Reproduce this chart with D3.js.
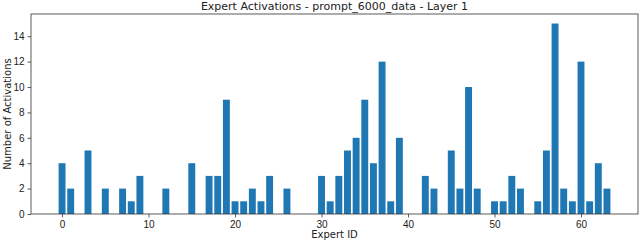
<!DOCTYPE html>
<html>
<head>
<meta charset="utf-8">
<script src="https://cdn.jsdelivr.net/npm/d3@7"></script>
<style>
  body { margin: 0; background: #fff; }
  svg { display: block; font-family: "DejaVu Sans", sans-serif; }
</style>
</head>
<body>
<svg width="640" height="243"></svg>
<script>
const width = 640, height = 243;
const margin = {left: 31, top: 14, right: 2, bottom: 29};

const title = "Expert Activations - prompt_6000_data - Layer 1";
const xLabel = "Expert ID";
const yLabel = "Number of Activations";

// activation count per expert, 0..63
const experts = d3.range(64);
const counts = [
    4, 2, 0, 5, 0, 2, 0, 2, 1, 3,
    0, 0, 2, 0, 0, 4, 0, 3, 3, 9,
    1, 1, 2, 1, 3, 0, 2, 0, 0, 0,
    3, 1, 3, 5, 6, 9, 4, 12, 1, 6,
    0, 0, 3, 2, 0, 5, 2, 10, 2, 0,
    1, 1, 3, 2, 0, 1, 5, 15, 2, 1,
    12, 1, 4, 2
];
const xTicks = [0, 10, 20, 30, 40, 50, 60];
const yTicks = [0, 2, 4, 6, 8, 10, 12, 14];

const svg = d3.select("svg");

// matplotlib style 5% margins around the bars
const xSpan = 63.8, yMax = d3.max(counts);
const x = d3.scaleLinear()
    .domain([-0.4 - xSpan * 0.05, 63.4 + xSpan * 0.05])
    .range([margin.left, width - margin.right]);
const y = d3.scaleLinear()
    .domain([0, yMax * 1.05])
    .range([height - margin.bottom, margin.top]);

const barW = x(0.8) - x(0);

svg.append("g")
    .selectAll("rect")
    .data(experts)
    .join("rect")
        .attr("x", d => x(d - 0.4))
        .attr("y", d => y(counts[d]))
        .attr("width", barW)
        .attr("height", d => y(0) - y(counts[d]))
        .attr("fill", "#1f77b4");

// axes
const xAxis = svg.append("g")
    .attr("transform", `translate(0, ${height - margin.bottom})`)
    .call(d3.axisBottom(x).tickValues(xTicks).tickSize(3.5).tickPadding(3));
const yAxis = svg.append("g")
    .attr("transform", `translate(${margin.left}, 0)`)
    .call(d3.axisLeft(y).tickValues(yTicks).tickSize(3.5).tickPadding(3));

[xAxis, yAxis].forEach(a => {
    a.select(".domain").remove();
    a.selectAll("text").style("font-size", "10px").attr("fill", "#222");
    a.selectAll("line").attr("stroke", "#333").attr("stroke-width", 0.8);
});

// frame
svg.append("rect")
    .attr("x", margin.left)
    .attr("y", margin.top)
    .attr("width", width - margin.left - margin.right)
    .attr("height", height - margin.top - margin.bottom)
    .attr("fill", "none")
    .attr("stroke", "#333")
    .attr("stroke-width", 0.8);

svg.append("text")
    .attr("x", (margin.left + width - margin.right) / 2)
    .attr("y", 9.5)
    .attr("text-anchor", "middle")
    .attr("fill", "#222")
    .style("font-size", "11px")
    .text(title);

svg.append("text")
    .attr("x", (margin.left + width - margin.right) / 2)
    .attr("y", 238)
    .attr("text-anchor", "middle")
    .attr("fill", "#222")
    .style("font-size", "10px")
    .text(xLabel);

svg.append("text")
    .attr("transform", `translate(11, ${(margin.top + height - margin.bottom) / 2}) rotate(-90)`)
    .attr("text-anchor", "middle")
    .attr("fill", "#222")
    .style("font-size", "10px")
    .text(yLabel);
</script>
</body>
</html>
